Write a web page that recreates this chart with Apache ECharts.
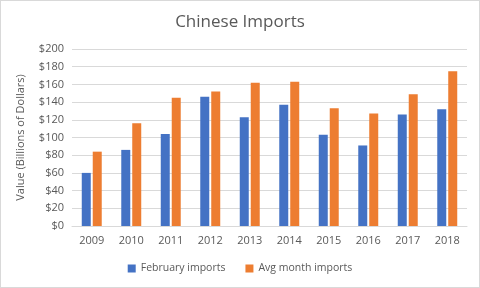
<!DOCTYPE html>
<html><head><meta charset="utf-8">
<script src="https://cdn.jsdelivr.net/npm/echarts@6/dist/echarts.min.js"></script>
<style>html,body{margin:0;padding:0;background:#fff}#c{width:478px;height:286px;border:1px solid #d9d9d9;}</style>
</head><body><div id="c"></div>
<script>
const years = ['2009','2010','2011','2012','2013','2014','2015','2016','2017','2018'];
const februaryImports = [60, 86, 104, 146, 123, 137, 103, 91, 126, 132];
const avgMonthImports = [84, 116, 145, 152, 162, 163, 133, 127, 149, 175];
const chart = echarts.init(document.getElementById('c'));
const font = 'Open Sans, Liberation Sans, sans-serif';
chart.setOption({
  animation: false,
  title: {text: 'Chinese Imports', left: 'center', top: 8, textStyle: {fontFamily: font, fontSize: 17, fontWeight: 'normal', color: '#595959'}},
  grid: {left: 71, right: 12, top: 48, bottom: 61},
  legend: {bottom: 8, itemWidth: 8, itemHeight: 8, itemGap: 20, icon: 'rect', textStyle: {fontFamily: font, fontSize: 10.5, color: '#595959'}},
  xAxis: {type: 'category', data: years, axisTick: {show: false}, axisLine: {lineStyle: {color: '#d9d9d9'}}, axisLabel: {fontFamily: font, fontSize: 11, color: '#595959', margin: 9}},
  yAxis: {type: 'value', min: 0, max: 200, interval: 20, name: 'Value (Billions of Dollars)', nameLocation: 'middle', nameGap: 46, nameTextStyle: {fontFamily: font, fontSize: 11, color: '#595959'},
    axisLabel: {formatter: '${value}', fontFamily: font, fontSize: 11, color: '#595959', margin: 8}, splitLine: {lineStyle: {color: '#d9d9d9'}}},
  series: [
    {name: 'February imports', type: 'bar', data: februaryImports, barWidth: 9, barGap: '22%', itemStyle: {color: '#4472c4'}},
    {name: 'Avg month imports', type: 'bar', data: avgMonthImports, barWidth: 9, itemStyle: {color: '#ed7d31'}}
  ]
});
</script></body></html>
